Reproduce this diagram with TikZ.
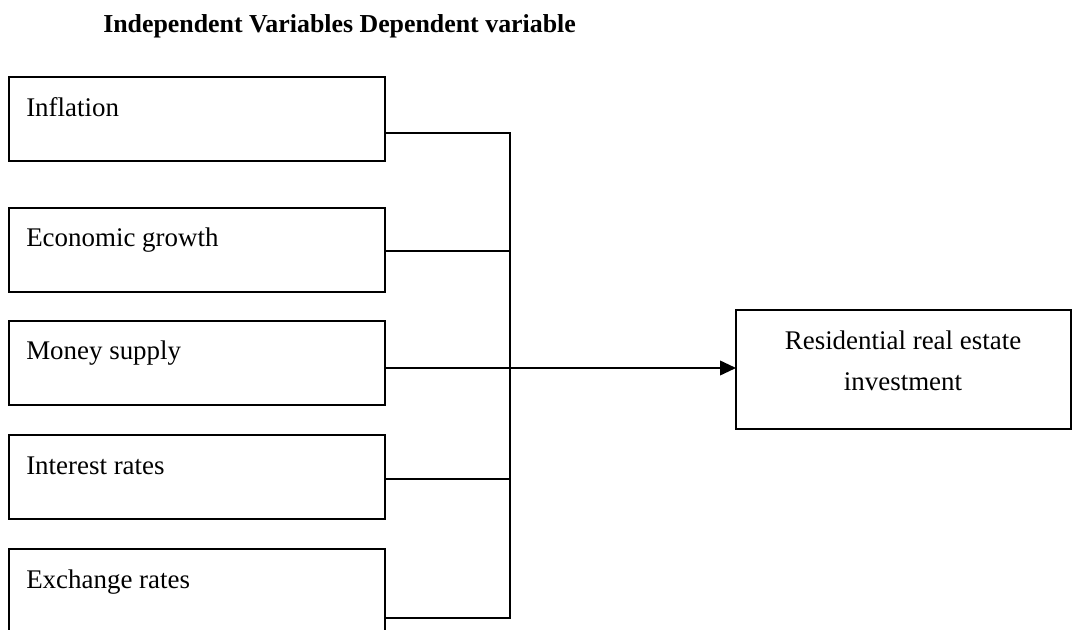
\documentclass[tikz,border=0pt]{standalone}
\usepackage{fontspec}
\setmainfont{Liberation Serif}
\usetikzlibrary{arrows.meta,calc}
\tikzset{
  box/.style={draw, line width=1.3pt, minimum width=282pt, minimum height=63pt, inner sep=0pt, outer sep=0pt, anchor=north west},
  depbox/.style={draw, line width=1.3pt, minimum width=251pt, minimum height=89pt, inner sep=0pt, outer sep=0pt, anchor=north west},
  lbl/.style={font=\fontsize{20.2}{24}\selectfont, inner sep=0pt, anchor=base west},
  conn/.style={line width=1.3pt},
  arr/.style={line width=1.3pt, -{Triangle[length=12pt,width=11pt]}}
}
\begin{document}
\begin{tikzpicture}[x=0.75pt,y=-0.75pt]
\useasboundingbox (0,0) rectangle (1073,630);
\node[lbl, font=\fontsize{19.4}{24}\selectfont\bfseries] (title) at (103,33) {Independent Variables Dependent variable};
\node[box] (b1) at (9,77) {};
\node[box] (b2) at (9,208) {};
\node[box] (b3) at (9,321) {};
\node[box] (b4) at (9,435) {};
\node[box] (b5) at (9,549) {};
\node[lbl] (t1) at (26,117) {Inflation};
\node[lbl] (t2) at (26,247) {Economic growth};
\node[lbl] (t3) at (26,360) {Money supply};
\node[lbl] (t4) at (26,474) {Interest rates};
\node[lbl] (t5) at (26,588) {Exchange rates};
\node[depbox] (dv) at (736,310) {};
\node[font=\fontsize{20.2}{24}\selectfont, inner sep=0pt, anchor=base] (dvt1) at (903,350) {Residential real estate};
\node[font=\fontsize{20.2}{24}\selectfont, inner sep=0pt, anchor=base] (dvt2) at (903,390) {investment};
\coordinate (c1) at (385,133);
\coordinate (c2) at (385,251);
\coordinate (c3) at (385,368);
\coordinate (c4) at (385,479);
\coordinate (c5) at (385,618);
\coordinate (bt) at (510,133);
\coordinate (bb) at (510,618);
\draw[conn] (c1) -- (bt) -- (bb) -- (c5);
\draw[conn] (c2) -- (c2 -| bt);
\draw[conn] (c4) -- (c4 -| bt);
\draw[arr] (c3) -- (c3 -| dv.west);
\end{tikzpicture}
\end{document}
